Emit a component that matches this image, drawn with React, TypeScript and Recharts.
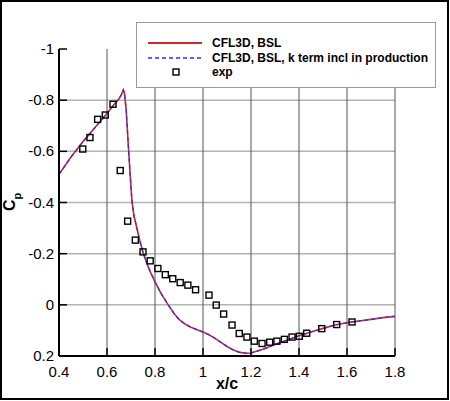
import React from "react";
import {
  ComposedChart,
  Line,
  Scatter,
  XAxis,
  YAxis,
  CartesianGrid,
  Legend,
} from "recharts";

// CFD curve (CFL3D, BSL), x/c and Cp
const CFD_X = [
  0.4, 0.45, 0.5, 0.55, 0.6, 0.625, 0.65, 0.66, 0.668, 0.673, 0.68, 0.689, 0.697, 0.704,
  0.712, 0.724, 0.737, 0.75, 0.765, 0.78, 0.8, 0.825, 0.855, 0.88, 0.9, 0.925, 0.95,
  0.975, 1.0, 1.025, 1.05, 1.075, 1.1, 1.125, 1.15, 1.175, 1.2, 1.25, 1.3, 1.35, 1.4,
  1.45, 1.5, 1.55, 1.6, 1.65, 1.7, 1.75, 1.8,
];
const CFD_BSL_CP = [
  -0.51, -0.578, -0.638, -0.693, -0.748, -0.778, -0.805, -0.822, -0.84, -0.826, -0.76,
  -0.62, -0.5, -0.405, -0.35, -0.302, -0.25, -0.205, -0.165, -0.13, -0.09, -0.045, 0.0,
  0.035, 0.057, 0.075, 0.088, 0.097, 0.106, 0.117, 0.131, 0.147, 0.163, 0.176, 0.185,
  0.189, 0.188, 0.174, 0.155, 0.138, 0.121, 0.106, 0.092, 0.079, 0.07, 0.063, 0.057,
  0.05, 0.045,
];
// k term incl in production: lies on top of the BSL curve
const CFD_KTERM_CP = [
  -0.51, -0.578, -0.638, -0.693, -0.748, -0.778, -0.805, -0.822, -0.84, -0.826, -0.76,
  -0.62, -0.5, -0.405, -0.35, -0.302, -0.25, -0.205, -0.165, -0.13, -0.09, -0.045, 0.0,
  0.035, 0.057, 0.075, 0.088, 0.097, 0.106, 0.117, 0.131, 0.147, 0.163, 0.176, 0.185,
  0.189, 0.188, 0.174, 0.155, 0.138, 0.121, 0.106, 0.092, 0.079, 0.07, 0.063, 0.057,
  0.05, 0.045,
];

// experiment
const EXP_X = [
  0.499, 0.529, 0.561, 0.593, 0.625, 0.655, 0.686, 0.718, 0.75, 0.78, 0.812, 0.843,
  0.874, 0.905, 0.937, 0.969, 1.025, 1.055, 1.086, 1.121, 1.151, 1.183, 1.214, 1.246,
  1.278, 1.308, 1.339, 1.371, 1.401, 1.432, 1.495, 1.557, 1.621,
];
const EXP_CP = [
  -0.609, -0.654, -0.725, -0.742, -0.784, -0.525, -0.327, -0.253, -0.207, -0.172,
  -0.142, -0.118, -0.102, -0.087, -0.077, -0.059, -0.038, 0.001, 0.036, 0.079, 0.112,
  0.126, 0.142, 0.151, 0.146, 0.142, 0.135, 0.126, 0.123, 0.111, 0.093, 0.077, 0.067,
];

const SERIES_NAMES = ["CFL3D, BSL", "CFL3D, BSL, k term incl in production", "exp"];

const X_TICKS = [0.4, 0.6, 0.8, 1, 1.2, 1.4, 1.6, 1.8];
const X_MINOR_TICKS = [
  0.44, 0.48, 0.52, 0.56, 0.64, 0.68, 0.72, 0.76, 0.84, 0.88, 0.92, 0.96, 1.04, 1.08,
  1.12, 1.16, 1.24, 1.28, 1.32, 1.36, 1.44, 1.48, 1.52, 1.56, 1.64, 1.68, 1.72, 1.76,
];
const Y_TICKS = [-1, -0.8, -0.6, -0.4, -0.2, 0, 0.2];
const Y_MINOR_TICKS = [
  -0.95, -0.9, -0.85, -0.75, -0.7, -0.65, -0.55, -0.5, -0.45, -0.35, -0.3, -0.25,
  -0.15, -0.1, -0.05, 0.05, 0.1, 0.15,
];
const X_GRID = [0.6, 0.8, 1, 1.2, 1.4, 1.6, 1.8];
const Y_GRID = [-0.8, -0.6, -0.4, -0.2, 0];

const cfdData = CFD_X.map((x, i) => ({ x, bsl: CFD_BSL_CP[i], kterm: CFD_KTERM_CP[i] }));
const expData = EXP_X.map((x, i) => ({ x, cp: EXP_CP[i] }));

const W = 450;
const H = 401;
const PLOT_LEFT = 59;
const PLOT_BOTTOM = 356;
const FONT = "'Liberation Sans', Arial, Helvetica, sans-serif";
const RED = "#d02828";
const BLUE = "#2b2bff";

const XTick = (props: any) => {
  const { x, payload } = props;
  return (
    <g>
      <line x1={x} x2={x} y1={PLOT_BOTTOM} y2={PLOT_BOTTOM - 8} stroke="#000" strokeWidth={1.5} />
      <text x={x} y={PLOT_BOTTOM + 21} textAnchor="middle" fontSize={15} fontFamily={FONT} fill="#000">
        {payload.value}
      </text>
    </g>
  );
};

const XMinorTick = (props: any) => (
  <line x1={props.x} x2={props.x} y1={PLOT_BOTTOM} y2={PLOT_BOTTOM - 5} stroke="#000" strokeWidth={1} />
);

const YTick = (props: any) => {
  const { y, payload } = props;
  return (
    <g>
      <line x1={PLOT_LEFT} x2={PLOT_LEFT + 8} y1={y} y2={y} stroke="#000" strokeWidth={1.5} />
      <text x={54} y={y + 5} textAnchor="end" fontSize={15} fontFamily={FONT} fill="#000">
        {payload.value}
      </text>
    </g>
  );
};

const YMinorTick = (props: any) => (
  <line x1={PLOT_LEFT} x2={PLOT_LEFT + 5} y1={props.y} y2={props.y} stroke="#000" strokeWidth={1} />
);

const SquareDot = (props: any) => {
  const { cx, cy } = props;
  if (cx == null || cy == null) return null;
  return <rect x={cx - 3} y={cy - 3} width={6} height={6} fill="none" stroke="#000" strokeWidth={1.4} />;
};

const LegendBox = () => (
  <div
    style={{
      width: 300,
      height: 66,
      boxSizing: "border-box",
      border: "1px solid #999",
      background: "#fff",
      paddingTop: 13,
      fontFamily: FONT,
      fontWeight: "bold",
      fontSize: 12,
    }}
  >
    {SERIES_NAMES.map((name, i) => (
      <div key={name} style={{ display: "flex", alignItems: "center", height: 14.6 }}>
        <svg width={75} height={14} style={{ flex: "none" }}>
          {i === 0 && <line x1={11} x2={65} y1={7} y2={7} stroke={RED} strokeWidth={2} />}
          {i === 1 && (
            <line x1={11} x2={65} y1={7} y2={7} stroke={BLUE} strokeWidth={1.3} strokeDasharray="4 3" />
          )}
          {i === 2 && <rect x={36} y={4} width={6} height={6} fill="none" stroke="#000" strokeWidth={1.4} />}
        </svg>
        <span style={{ whiteSpace: "nowrap", lineHeight: "14px" }}>{name}</span>
      </div>
    ))}
  </div>
);

export default function App() {
  return (
    <div style={{ position: "fixed", left: 0, top: 0, width: W, height: H, background: "#fff" }}>
      <ComposedChart width={W} height={H} margin={{ top: 49, right: 55, bottom: 15, left: 0 }}>
        <CartesianGrid
          horizontalValues={Y_GRID}
          vertical={false}
          stroke="#b4b4b4"
          strokeWidth={1.5}
        />
        <CartesianGrid
          verticalValues={X_GRID}
          horizontal={false}
          stroke="#555"
          strokeWidth={1}
        />
        <XAxis
          dataKey="x"
          type="number"
          domain={[0.4, 1.8]}
          ticks={X_TICKS}
          interval={0}
          allowDataOverflow
          height={30}
          axisLine={{ stroke: "#000", strokeWidth: 2 }}
          tickLine={false}
          tick={<XTick />}
          label={(p: any) => (
            <text
              x={p.viewBox.x + p.viewBox.width / 2}
              y={389}
              textAnchor="middle"
              fontSize={16}
              fontWeight="bold"
              fontFamily={FONT}
              fill="#000"
            >
              x/c
            </text>
          )}
        />
        <XAxis
          xAxisId="minor"
          dataKey="x"
          type="number"
          domain={[0.4, 1.8]}
          ticks={X_MINOR_TICKS}
          interval={0}
          allowDataOverflow
          height={0}
          axisLine={false}
          tickLine={false}
          tick={<XMinorTick />}
        />
        <YAxis
          type="number"
          reversed
          domain={[-1, 0.2]}
          ticks={Y_TICKS}
          interval={0}
          allowDataOverflow
          width={59}
          axisLine={{ stroke: "#000", strokeWidth: 2 }}
          tickLine={false}
          tick={<YTick />}
          label={() => (
            <text
              x={15}
              y={211}
              transform="rotate(-90 15 211)"
              fontSize={16}
              fontWeight="bold"
              fontFamily={FONT}
              fill="#000"
            >
              C
              <tspan dy={6} fontSize={11}>
                p
              </tspan>
            </text>
          )}
        />
        <YAxis
          yAxisId="minor"
          type="number"
          reversed
          domain={[-1, 0.2]}
          ticks={Y_MINOR_TICKS}
          interval={0}
          allowDataOverflow
          width={0}
          axisLine={false}
          tickLine={false}
          tick={<YMinorTick />}
        />
        <Legend
          layout="vertical"
          align="center"
          verticalAlign="middle"
          wrapperStyle={{ left: 136, top: 22, width: 300, height: 66 }}
          content={() => <LegendBox />}
        />
        <Line
          data={cfdData}
          dataKey="bsl"
          name={SERIES_NAMES[0]}
          type="linear"
          stroke={RED}
          strokeWidth={1.6}
          dot={false}
          isAnimationActive={false}
        />
        <Line
          data={cfdData}
          dataKey="kterm"
          name={SERIES_NAMES[1]}
          type="linear"
          stroke={BLUE}
          strokeWidth={1.2}
          strokeDasharray="4 3"
          dot={false}
          isAnimationActive={false}
        />
        <Scatter
          data={expData}
          dataKey="cp"
          name={SERIES_NAMES[2]}
          shape={<SquareDot />}
          isAnimationActive={false}
        />
      </ComposedChart>
      <div
        style={{
          position: "absolute",
          left: 0,
          top: 0,
          width: 449,
          height: 400,
          boxSizing: "border-box",
          border: "2px solid #000",
          pointerEvents: "none",
        }}
      />
    </div>
  );
}
